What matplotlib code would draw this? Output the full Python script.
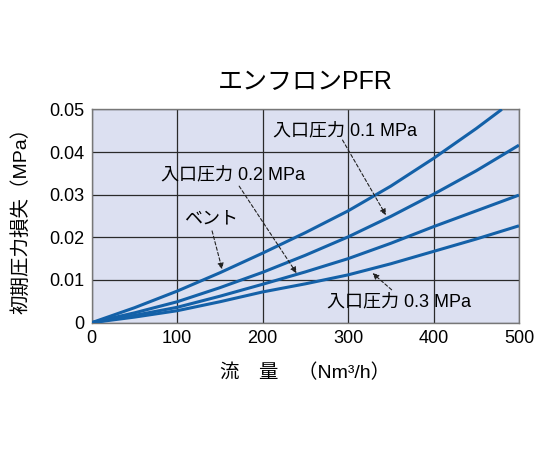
import matplotlib
matplotlib.use('Agg')
import matplotlib.pyplot as plt

plt.rcParams['font.family'] = ['Liberation Sans', 'Noto Sans CJK JP', 'DejaVu Sans']

# 流量 (Nm3/h)
flow = [0, 50, 100, 150, 200, 250, 300, 350, 400, 450, 500]
flow_vent = [0, 50, 100, 150, 200, 250, 300, 350, 400, 450, 480]

# 初期圧力損失 (MPa)
loss_vent = [0, 0.0035, 0.0074, 0.0117, 0.0163, 0.0211, 0.0262, 0.0320, 0.0385, 0.0455, 0.0500]
loss_01 = [0, 0.0023, 0.0049, 0.0082, 0.0118, 0.0158, 0.0201, 0.0249, 0.0301, 0.0356, 0.0416]
loss_02 = [0, 0.0017, 0.0036, 0.0062, 0.0090, 0.0119, 0.0150, 0.0186, 0.0225, 0.0262, 0.0299]
loss_03 = [0, 0.0013, 0.0028, 0.0049, 0.0072, 0.0091, 0.0112, 0.0138, 0.0167, 0.0196, 0.0227]

xticks = [0, 100, 200, 300, 400, 500]
yticks = [0, 0.01, 0.02, 0.03, 0.04, 0.05]
ytick_labels = ['0', '0.01', '0.02', '0.03', '0.04', '0.05']

line_color = '#1461a8'

fig = plt.figure(figsize=(5.4, 4.5), dpi=100)
ax = fig.add_axes([0.170, 0.283, 0.791, 0.474])
ax.set_facecolor('#dce0f1')

for y in [loss_01, loss_02, loss_03]:
    ax.plot(flow, y, color=line_color, lw=2.2, solid_capstyle='butt', zorder=3)
ax.plot(flow_vent, loss_vent, color=line_color, lw=2.2, solid_capstyle='butt', zorder=3)

ax.set_xlim(0, 500)
ax.set_ylim(0, 0.05)
ax.set_xticks(xticks)
ax.set_yticks(yticks)
ax.set_yticklabels(ytick_labels)
ax.tick_params(length=0, labelsize=13, pad=5)
ax.grid(True, color='#2a2a2a', lw=0.9)
ax.set_axisbelow(True)
for s in ax.spines.values():
    s.set_color('#777777')
    s.set_linewidth(1.0)

ax.set_title('エンフロンPFR', fontsize=18, pad=15)
ax.set_xlabel('流　量　（Nm³/h）', fontsize=14, labelpad=12)
ax.set_ylabel('初期圧力損失（MPa）', fontsize=14, labelpad=14)

arrow = dict(arrowstyle='-|>', linestyle=(0, (3, 2)), color='#222222', lw=0.8,
             mutation_scale=9, shrinkA=0, shrinkB=0)

ax.text(140, 0.0242, 'ベント', fontsize=13, ha='center', va='center')
ax.annotate('', xy=(152.6, 0.0125), xytext=(140.8, 0.0215), arrowprops=arrow)

ax.text(81, 0.0347, '入口圧力 0.2 MPa', fontsize=13, ha='left', va='center')
ax.annotate('', xy=(239.7, 0.0116), xytext=(172.5, 0.0320), arrowprops=arrow)

ax.text(212, 0.0450, '入口圧力 0.1 MPa', fontsize=13, ha='left', va='center')
ax.annotate('', xy=(344.3, 0.0252), xytext=(293.5, 0.0428), arrowprops=arrow)

ax.text(275, 0.0048, '入口圧力 0.3 MPa', fontsize=13, ha='left', va='center')
ax.annotate('', xy=(328.6, 0.0116), xytext=(351, 0.0077), arrowprops=arrow)

fig.savefig('out.png', dpi=100)
